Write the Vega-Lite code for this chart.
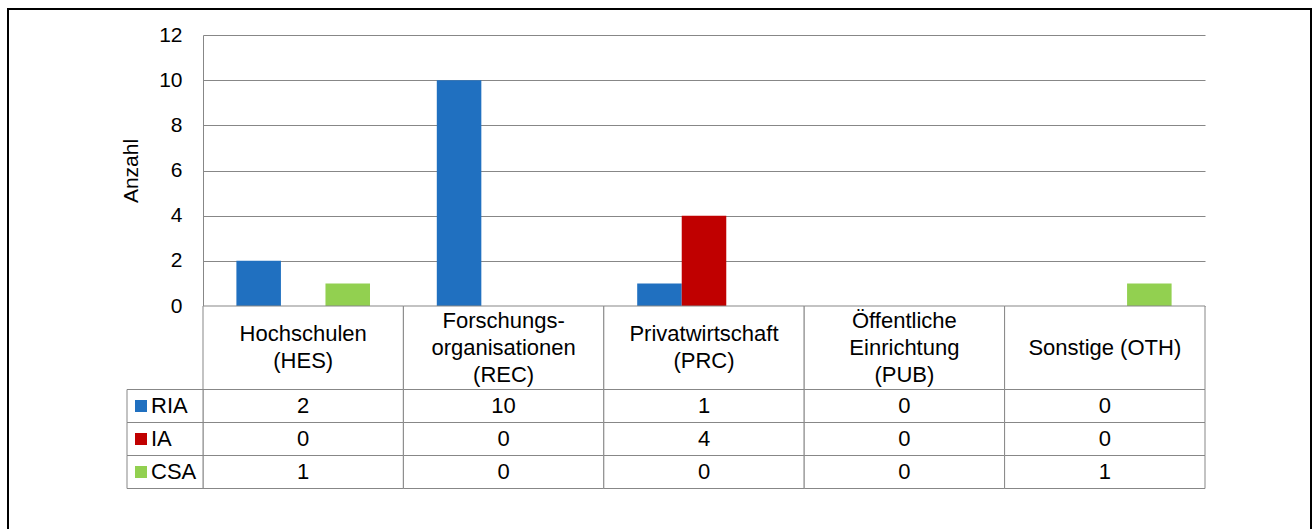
{
  "$schema": "https://vega.github.io/schema/vega-lite/v6.json",
  "width": 1303,
  "height": 521,
  "autosize": {"type": "none"},
  "padding": {"left": 8, "top": 9, "right": 5, "bottom": 0},
  "background": "white",
  "config": {
    "view": {"stroke": "black", "strokeWidth": 2},
    "font": "Liberation Sans",
    "text": {"font": "Liberation Sans"},
    "axis": {"labelFont": "Liberation Sans", "titleFont": "Liberation Sans"},
    "legend": {"labelFont": "Liberation Sans"}
  },
  "datasets": {
    "werte": [
      {"kategorie": "Hochschulen\n(HES)", "reihe": "RIA", "anzahl": 2},
      {"kategorie": "Hochschulen\n(HES)", "reihe": "IA", "anzahl": 0},
      {"kategorie": "Hochschulen\n(HES)", "reihe": "CSA", "anzahl": 1},
      {"kategorie": "Forschungs-\norganisationen\n(REC)", "reihe": "RIA", "anzahl": 10},
      {"kategorie": "Forschungs-\norganisationen\n(REC)", "reihe": "IA", "anzahl": 0},
      {"kategorie": "Forschungs-\norganisationen\n(REC)", "reihe": "CSA", "anzahl": 0},
      {"kategorie": "Privatwirtschaft\n(PRC)", "reihe": "RIA", "anzahl": 1},
      {"kategorie": "Privatwirtschaft\n(PRC)", "reihe": "IA", "anzahl": 4},
      {"kategorie": "Privatwirtschaft\n(PRC)", "reihe": "CSA", "anzahl": 0},
      {"kategorie": "Öffentliche\nEinrichtung\n(PUB)", "reihe": "RIA", "anzahl": 0},
      {"kategorie": "Öffentliche\nEinrichtung\n(PUB)", "reihe": "IA", "anzahl": 0},
      {"kategorie": "Öffentliche\nEinrichtung\n(PUB)", "reihe": "CSA", "anzahl": 0},
      {"kategorie": "Sonstige (OTH)", "reihe": "RIA", "anzahl": 0},
      {"kategorie": "Sonstige (OTH)", "reihe": "IA", "anzahl": 0},
      {"kategorie": "Sonstige (OTH)", "reihe": "CSA", "anzahl": 1}
    ],
    "kategorien": [
      {"kategorie": "Hochschulen\n(HES)"},
      {"kategorie": "Forschungs-\norganisationen\n(REC)"},
      {"kategorie": "Privatwirtschaft\n(PRC)"},
      {"kategorie": "Öffentliche\nEinrichtung\n(PUB)"},
      {"kategorie": "Sonstige (OTH)"}
    ],
    "reihen": [
      {"reihe": "RIA"},
      {"reihe": "IA"},
      {"reihe": "CSA"}
    ]
  },
  "resolve": {"scale": {"x": "independent", "y": "independent"}},
  "layer": [
    {
      "data": {"name": "werte"},
      "transform": [{"filter": "datum.anzahl > 0"}],
      "mark": {"type": "bar"},
      "encoding": {
        "x": {
          "field": "kategorie", "type": "nominal", "sort": null,
          "scale": {
            "domain": ["Hochschulen\n(HES)", "Forschungs-\norganisationen\n(REC)", "Privatwirtschaft\n(PRC)", "Öffentliche\nEinrichtung\n(PUB)", "Sonstige (OTH)"],
            "range": [195, 1197], "paddingInner": 0, "paddingOuter": 0
          },
          "axis": null
        },
        "xOffset": {
          "field": "reihe", "type": "nominal",
          "scale": {"domain": ["RIA", "IA", "CSA"], "paddingInner": 0, "paddingOuter": 0.75}
        },
        "y": {
          "field": "anzahl", "type": "quantitative",
          "scale": {"domain": [0, 12], "range": [297, 26], "nice": false},
          "axis": {
            "orient": "left", "offset": -195,
            "values": [0, 2, 4, 6, 8, 10, 12],
            "grid": true, "gridColor": "#878787", "gridWidth": 1,
            "ticks": false, "tickSize": 0,
            "domain": true, "domainColor": "#878787", "domainWidth": 1,
            "labelFontSize": 21, "labelColor": "black", "labelPadding": 21,
            "title": "Anzahl", "titleFontSize": 21, "titleFontWeight": "normal",
            "titleColor": "black", "titlePadding": 17
          }
        },
        "color": {
          "field": "reihe", "type": "nominal",
          "scale": {"domain": ["RIA", "IA", "CSA"], "range": ["#2070C0", "#C00000", "#92D050"]},
          "legend": {
            "orient": "none", "legendX": 122, "legendY": 386,
            "direction": "vertical", "title": null,
            "symbolType": "square", "symbolSize": 144, "symbolStrokeWidth": 0,
            "labelFontSize": 22, "labelColor": "black", "labelOffset": -1,
            "rowPadding": 11, "padding": 0
          }
        }
      }
    },
    {
      "data": {"name": "kategorien"},
      "encoding": {
        "x": {
          "field": "kategorie", "type": "nominal", "sort": null,
          "scale": {
            "domain": ["Hochschulen\n(HES)", "Forschungs-\norganisationen\n(REC)", "Privatwirtschaft\n(PRC)", "Öffentliche\nEinrichtung\n(PUB)", "Sonstige (OTH)"],
            "range": [195, 1197], "paddingInner": 0, "paddingOuter": 0
          },
          "axis": null
        },
        "y": {
          "datum": "Kategorie", "type": "nominal",
          "scale": {"domain": ["Kategorie"], "range": [297, 380.5], "paddingInner": 0, "paddingOuter": 0},
          "axis": null
        },
        "text": {"field": "kategorie"}
      },
      "layer": [
        {"mark": {"type": "rect", "fill": "white", "stroke": "#878787", "strokeWidth": 1}},
        {
          "transform": [{"filter": "length(split(datum.kategorie, '\\n')) == 1"}],
          "mark": {"type": "text", "fontSize": 22, "lineBreak": "\n", "lineHeight": 27, "baseline": "middle", "align": "center", "color": "black", "dy": 0}
        },
        {
          "transform": [{"filter": "length(split(datum.kategorie, '\\n')) == 2"}],
          "mark": {"type": "text", "fontSize": 22, "lineBreak": "\n", "lineHeight": 27, "baseline": "middle", "align": "center", "color": "black", "dy": -13.5}
        },
        {
          "transform": [{"filter": "length(split(datum.kategorie, '\\n')) == 3"}],
          "mark": {"type": "text", "fontSize": 22, "lineBreak": "\n", "lineHeight": 27, "baseline": "middle", "align": "center", "color": "black", "dy": -27}
        }
      ]
    },
    {
      "data": {"name": "werte"},
      "encoding": {
        "x": {
          "field": "kategorie", "type": "nominal", "sort": null,
          "scale": {
            "domain": ["Hochschulen\n(HES)", "Forschungs-\norganisationen\n(REC)", "Privatwirtschaft\n(PRC)", "Öffentliche\nEinrichtung\n(PUB)", "Sonstige (OTH)"],
            "range": [195, 1197], "paddingInner": 0, "paddingOuter": 0
          },
          "axis": null
        },
        "y": {
          "field": "reihe", "type": "nominal",
          "scale": {"domain": ["RIA", "IA", "CSA"], "range": [380.5, 479.5], "paddingInner": 0, "paddingOuter": 0},
          "axis": null
        }
      },
      "layer": [
        {"mark": {"type": "rect", "fill": "white", "stroke": "#878787", "strokeWidth": 1}},
        {
          "mark": {"type": "text", "fontSize": 22, "baseline": "middle", "align": "center", "color": "black"},
          "encoding": {"text": {"field": "anzahl", "type": "quantitative"}}
        }
      ]
    },
    {
      "data": {"name": "reihen"},
      "mark": {"type": "rect", "fill": "white", "stroke": "#878787", "strokeWidth": 1},
      "encoding": {
        "x": {
          "datum": "Legende", "type": "nominal",
          "scale": {"domain": ["Legende"], "range": [119, 195], "paddingInner": 0, "paddingOuter": 0},
          "axis": null
        },
        "y": {
          "field": "reihe", "type": "nominal",
          "scale": {"domain": ["RIA", "IA", "CSA"], "range": [380.5, 479.5], "paddingInner": 0, "paddingOuter": 0},
          "axis": null
        }
      }
    }
  ]
}
